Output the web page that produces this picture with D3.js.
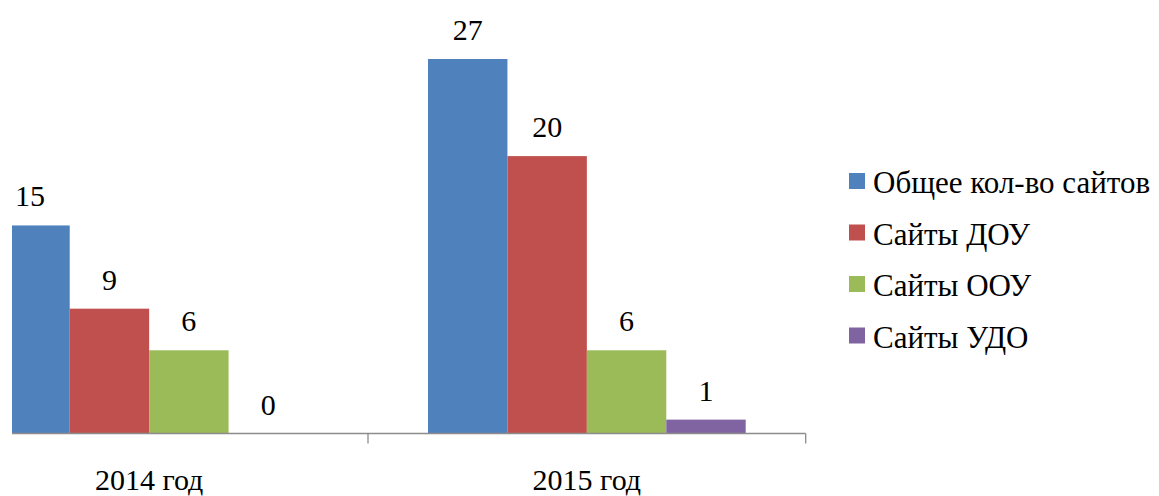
<!DOCTYPE html>
<html>
<head>
<meta charset="utf-8">
<script src="https://cdn.jsdelivr.net/npm/d3@7"></script>
<style>
  html, body { margin: 0; padding: 0; background: #fff; }
  svg text { font-family: 'Liberation Serif', 'Times New Roman', Tinos, 'DejaVu Serif', serif; }
  .val { font-size: 30px; fill: #000; }
  .cat { font-size: 30px; fill: #000; }
  .leg { font-size: 31px; fill: #000; }
</style>
</head>
<body>
<svg id="chart" width="1159" height="496"></svg>
<script>
(function () {
  "use strict";

  const categories = ["2014 год", "2015 год"];
  const seriesNames = ["Общее кол-во сайтов", "Сайты ДОУ", "Сайты ООУ", "Сайты УДО"];
  const seriesColors = ["#4F81BD", "#C0504D", "#9BBB59", "#8064A2"];
  const values2014 = [15, 9, 6, 0];
  const values2015 = [27, 20, 6, 1];
  const valuesByCat = [values2014, values2015];

  const svg = d3.select("#chart");
  const serif = "'Liberation Serif', 'Times New Roman', Tinos, 'DejaVu Serif', serif";

  // plot area: left part is cut at x=12 like the reference
  svg.append("clipPath").attr("id", "clip")
    .append("rect").attr("x", 12).attr("y", 0).attr("width", 1147).attr("height", 496);

  const g = svg.append("g").attr("clip-path", "url(#clip)");

  const baseY = 433.5;
  const x = d3.scaleBand().domain(categories).range([-69.7, 805.7]).padding(0);
  const xs = d3.scaleBand().domain(seriesNames)
    .range([60, x.bandwidth() - 60]).padding(0);
  const y = d3.scaleLinear().domain([0, 30]).range([baseY, baseY - 30 * 13.87]);

  const rows = [];
  categories.forEach((c, ci) => {
    seriesNames.forEach((s, si) => rows.push({ cat: c, series: s, v: valuesByCat[ci][si], color: seriesColors[si] }));
  });

  // bars
  g.selectAll(".bar")
    .data(rows.filter(d => d.v > 0))
    .join("rect")
    .attr("class", "bar")
    .attr("x", d => x(d.cat) + xs(d.series))
    .attr("y", d => y(d.v))
    .attr("width", xs.bandwidth())
    .attr("height", d => baseY - y(d.v))
    .attr("fill", d => d.color);

  // value labels
  g.selectAll(".val")
    .data(rows)
    .join("text")
    .attr("class", "val")
    .attr("font-family", serif)
    .attr("x", d => x(d.cat) + xs(d.series) + xs.bandwidth() / 2)
    .attr("y", d => y(d.v) - 19)
    .attr("text-anchor", "middle")
    .text(d => d.v);

  // axis line + boundary ticks
  g.append("line")
    .attr("x1", x.range()[0]).attr("x2", x.range()[1])
    .attr("y1", baseY).attr("y2", baseY)
    .attr("stroke", "#8c8c8c").attr("stroke-width", 1.3);

  g.selectAll(".tick-b")
    .data(categories)
    .join("line")
    .attr("class", "tick-b")
    .attr("x1", d => x(d) + x.bandwidth()).attr("x2", d => x(d) + x.bandwidth())
    .attr("y1", baseY).attr("y2", baseY + 10)
    .attr("stroke", "#8c8c8c").attr("stroke-width", 1.3);

  // category labels
  g.selectAll(".cat")
    .data(categories)
    .join("text")
    .attr("class", "cat")
    .attr("font-family", serif)
    .attr("x", d => x(d) + x.bandwidth() / 2)
    .attr("y", 490)
    .attr("text-anchor", "middle")
    .text(d => d);

  // legend
  const leg = svg.append("g").attr("transform", "translate(849,181)");
  const items = leg.selectAll(".li")
    .data(seriesNames)
    .join("g")
    .attr("class", "li")
    .attr("transform", (d, i) => `translate(0,${i * 51.5})`);
  items.append("rect")
    .attr("x", 0).attr("y", -8).attr("width", 16).attr("height", 16)
    .attr("fill", (d, i) => seriesColors[i]);
  items.append("text")
    .attr("class", "leg")
    .attr("font-family", serif)
    .attr("x", 24).attr("y", 12)
    .text(d => d);
})();
</script>
</body>
</html>
